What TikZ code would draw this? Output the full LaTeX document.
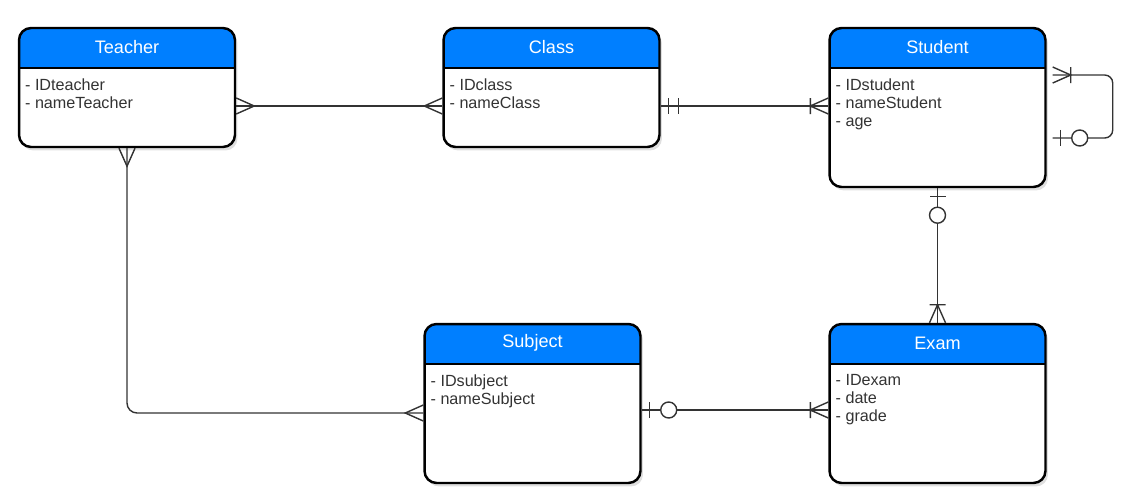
\documentclass[tikz,border=0pt]{standalone}
\usepackage{fontspec}
\setmainfont{Liberation Sans}
\usepackage{xcolor}
\usetikzlibrary{positioning,shadows}
\definecolor{hdblue}{RGB}{0,127,255}
\definecolor{attgray}{RGB}{51,51,51}
\tikzset{
  conn/.style={draw=black!80,line width=0.8pt},
  many/.pic={\draw[conn] (0,-8) -- (18,0) -- (0,8);},
  onemany/.pic={\draw[conn] (0,-8) -- (18,0) -- (0,8) (18,-8) -- (18,8);},
  oneone/.pic={\draw[conn] (8,-8) -- (8,8) (18,-8) -- (18,8);},
  zeroone/.pic={\draw[conn] (8,-8) -- (8,8); \draw[conn,fill=white] (27,0) circle (0.16cm);}
}

\begin{document}
\begin{tikzpicture}[x=0.02cm,y=-0.02cm,
  ent/.style={draw=black,line width=1.4pt,fill=white,rounded corners=0.24cm,minimum width=4.32cm,inner sep=0pt,
    drop shadow={opacity=0.25,shadow xshift=0.05cm,shadow yshift=-0.07cm},
    path picture={\fill[hdblue,sharp corners] (path picture bounding box.north west) rectangle ([yshift=-0.8cm]path picture bounding box.north east);
      \draw[line width=1.4pt,sharp corners] ([yshift=-0.8cm]path picture bounding box.north west) -- ([yshift=-0.8cm]path picture bounding box.north east);}},
  hd/.style={text=white,font=\fontsize{10.3}{12}\selectfont,inner sep=0pt},
  att/.style={text=attgray,font=\fontsize{9.2}{10.2}\selectfont,align=left,anchor=north west,inner sep=0pt}]
  \useasboundingbox (0,0) rectangle (1125,501);

  % entities
  \node[ent,minimum height=2.38cm] (teacher) at (127,87.5) {};
  \node[ent,minimum height=2.38cm] (class) at (551.5,87.5) {};
  \node[ent,minimum height=3.18cm] (student) at (937.5,107.5) {};
  \node[ent,minimum height=3.18cm] (subject) at (532.5,403.5) {};
  \node[ent,minimum height=3.18cm] (exam) at (937.5,403.5) {};

  \node[hd] (teacherhd) at ([yshift=-0.41cm]teacher.north) {Teacher};
  \node[hd] (classhd) at ([yshift=-0.41cm]class.north) {Class};
  \node[hd] (studenthd) at ([yshift=-0.41cm]student.north) {Student};
  \node[hd] (subjecthd) at ([yshift=-0.41cm]subject.north) {Subject};
  \node[hd] (examhd) at ([yshift=-0.41cm]exam.north) {Exam};

  \node[att] (teacherat) at ([xshift=0.14cm,yshift=-1.03cm]teacher.north west) {- IDteacher\\- nameTeacher};
  \node[att] (classat) at ([xshift=0.14cm,yshift=-1.03cm]class.north west) {- IDclass\\- nameClass};
  \node[att] (studentat) at ([xshift=0.14cm,yshift=-1.03cm]student.north west) {- IDstudent\\- nameStudent\\- age};
  \node[att] (subjectat) at ([xshift=0.14cm,yshift=-1.03cm]subject.north west) {- IDsubject\\- nameSubject};
  \node[att] (examat) at ([xshift=0.14cm,yshift=-1.03cm]exam.north west) {- IDexam\\- date\\- grade};

  % relations
  \draw[conn] ([yshift=-0.37cm]teacher.east) -- ([yshift=-0.37cm]class.west);
  \draw[conn] ([yshift=-0.37cm]class.east) -- ([yshift=-0.37cm]class.east -| student.west);
  \draw[conn] (student.south) -- (exam.north);
  \draw[conn,rounded corners=0.2cm] (teacher.south) |- ([yshift=-0.19cm]subject.west);
  \draw[conn] ([yshift=-0.13cm]subject.east) -- ([yshift=-0.13cm]exam.west);
  \draw[conn,rounded corners=0.16cm] ([xshift=0.12cm,yshift=0.65cm]student.east) -- ++(60,0) -- ++(0,63) -- ([xshift=0.12cm,yshift=-0.61cm]student.east);

  % ends
  \pic at ([yshift=-0.37cm]teacher.east) {many};
  \pic[rotate=180] at ([yshift=-0.37cm]class.west) {many};
  \pic at ([yshift=-0.37cm]class.east) {oneone};
  \pic[rotate=180] at ([yshift=-0.37cm]class.east -| student.west) {onemany};
  \pic[rotate=-90] at (student.south) {zeroone};
  \pic[rotate=90] at (exam.north) {onemany};
  \pic[rotate=-90] at (teacher.south) {many};
  \pic[rotate=180] at ([yshift=-0.19cm]subject.west) {many};
  \pic at ([yshift=-0.13cm]subject.east) {zeroone};
  \pic[rotate=180] at ([yshift=-0.13cm]exam.west) {onemany};
  \pic at ([xshift=0.12cm,yshift=0.65cm]student.east) {onemany};
  \pic at ([xshift=0.12cm,yshift=-0.61cm]student.east) {zeroone};
\end{tikzpicture}
\end{document}
